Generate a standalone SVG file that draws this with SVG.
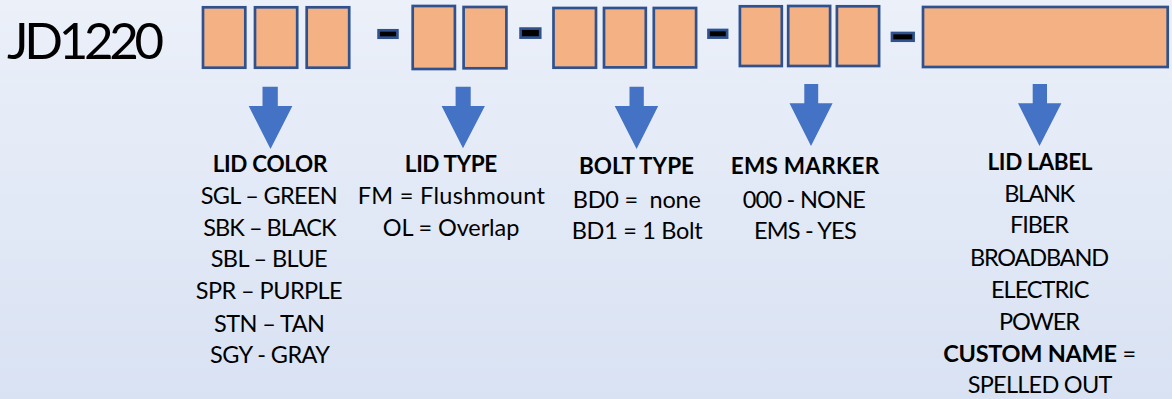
<svg xmlns="http://www.w3.org/2000/svg" width="1172" height="399" viewBox="0 0 1172 399">
<defs>
<linearGradient id="bg" x1="0" y1="0" x2="0" y2="1">
<stop offset="0" stop-color="#EBF0F9"/>
<stop offset="1" stop-color="#D9E2F3"/>
</linearGradient>
</defs>
<style>
.box{fill:#F4B183;stroke:#2F528F;stroke-width:2.7}
.dash{fill:#000000;stroke:#2F528F;stroke-width:2.7}
.arrow{fill:#4472C4}
text{font-family:Lato,"Liberation Sans",sans-serif;fill:#000000;text-anchor:middle}
.t{font-size:23.5px}
.h{font-size:22.5px;font-weight:bold}
.title{font-size:51px;text-anchor:start}
</style>
<rect x="0" y="0" width="1172" height="399" fill="url(#bg)"/>
<g id="title"><text class="title" x="7" y="59.3" textLength="157">JD1220</text></g>
<g id="code">
<g id="seg-color">
<rect class="box" x="203" y="7.3" width="42.3" height="60.4"/>
<rect class="box" x="255" y="7.3" width="42.2" height="60.4"/>
<rect class="box" x="306.7" y="7.3" width="42.5" height="60.4"/>
</g>
<rect id="dash1" class="dash" x="378.6" y="30.3" width="18.8" height="7.4"/>
<g id="seg-type">
<rect class="box" x="412.7" y="6" width="42.2" height="63"/>
<rect class="box" x="463.6" y="7" width="42.8" height="61.3"/>
</g>
<rect id="dash2" class="dash" x="520.6" y="28.6" width="19.6" height="9"/>
<g id="seg-bolt">
<rect class="box" x="553.5" y="8" width="42.5" height="59.7"/>
<rect class="box" x="604" y="8" width="41.8" height="59.4"/>
<rect class="box" x="653.8" y="8" width="42.3" height="59.4"/>
</g>
<rect id="dash3" class="dash" x="708.5" y="30" width="18.6" height="7.6"/>
<g id="seg-ems">
<rect class="box" x="739.9" y="6.3" width="41.9" height="59.7"/>
<rect class="box" x="788.2" y="6" width="41.9" height="60"/>
<rect class="box" x="836.9" y="6.3" width="42.2" height="59.7"/>
</g>
<rect id="dash4" class="dash" x="892" y="33" width="21.6" height="7.7"/>
<g id="seg-label">
<rect class="box" x="923" y="7" width="244.7" height="60"/>
</g>
</g>
<g id="connectors">
<polygon class="arrow" points="262.5,86.7 277.8,86.7 277.8,106 292.4,106 270.5,149 248.7,106 262.5,106"/>
<polygon class="arrow" points="455.6,86.7 470.7,86.7 470.7,106 484.9,106 463,148.3 441.6,106 455.6,106"/>
<polygon class="arrow" points="629.5,86.7 643.8,86.7 643.8,106 658.2,106 636.6,149 614.7,106 629.5,106"/>
<polygon class="arrow" points="804.3,84 818.2,84 818.2,103.3 832.6,103.3 811,146 789.5,103.3 804.3,103.3"/>
<polygon class="arrow" points="1032.7,84 1047,84 1047,103.3 1061.4,103.3 1039.5,146 1018,103.3 1032.7,103.3"/>
</g>
<g id="lid-color">
<text class="h" x="270" y="171.7" textLength="114.7">LID COLOR</text>
<text class="t" x="269.2" y="204.3" textLength="137">SGL – GREEN</text>
<text class="t" x="270" y="235.7" textLength="133.3">SBK – BLACK</text>
<text class="t" x="269.2" y="267.3" textLength="117">SBL – BLUE</text>
<text class="t" x="269.2" y="299" textLength="147">SPR – PURPLE</text>
<text class="t" x="269.5" y="331.7" textLength="111">STN – TAN</text>
<text class="t" x="270" y="363.3" textLength="120">SGY - GRAY</text>
</g>
<g id="lid-type">
<text class="h" x="451" y="172.3" textLength="92.3">LID TYPE</text>
<text class="t" x="451.3" y="204.3" textLength="187.3">FM = Flushmount</text>
<text class="t" x="451" y="235.7" textLength="136.6">OL = Overlap</text>
</g>
<g id="bolt-type">
<text class="h" x="636.5" y="174.3" textLength="115">BOLT TYPE</text>
<text class="t" x="636.8" y="207.7" textLength="128.3" xml:space="preserve">BD0 =  none</text>
<text class="t" x="637.2" y="239" textLength="131">BD1 = 1 Bolt</text>
</g>
<g id="ems-marker">
<text class="h" x="805" y="174.3" textLength="148.6">EMS MARKER</text>
<text class="t" x="804.3" y="207.7" textLength="123.3">000 - NONE</text>
<text class="t" x="805.3" y="239" textLength="102.7">EMS - YES</text>
</g>
<g id="lid-label">
<text class="h" x="1040" y="170" textLength="105">LID LABEL</text>
<text class="t" x="1039.7" y="201.7" textLength="70.7">BLANK</text>
<text class="t" x="1039.5" y="233.3" textLength="59">FIBER</text>
<text class="t" x="1039.5" y="265.7" textLength="139">BROADBAND</text>
<text class="t" x="1040.2" y="298.3" textLength="98.3">ELECTRIC</text>
<text class="t" x="1039.5" y="330" textLength="81">POWER</text>
<text class="t" x="1039.7" y="362.3" textLength="192.7"><tspan font-weight="bold">CUSTOM NAME</tspan> =</text>
<text class="t" x="1040" y="393.3" textLength="144.7">SPELLED OUT</text>
</g>
</svg>
